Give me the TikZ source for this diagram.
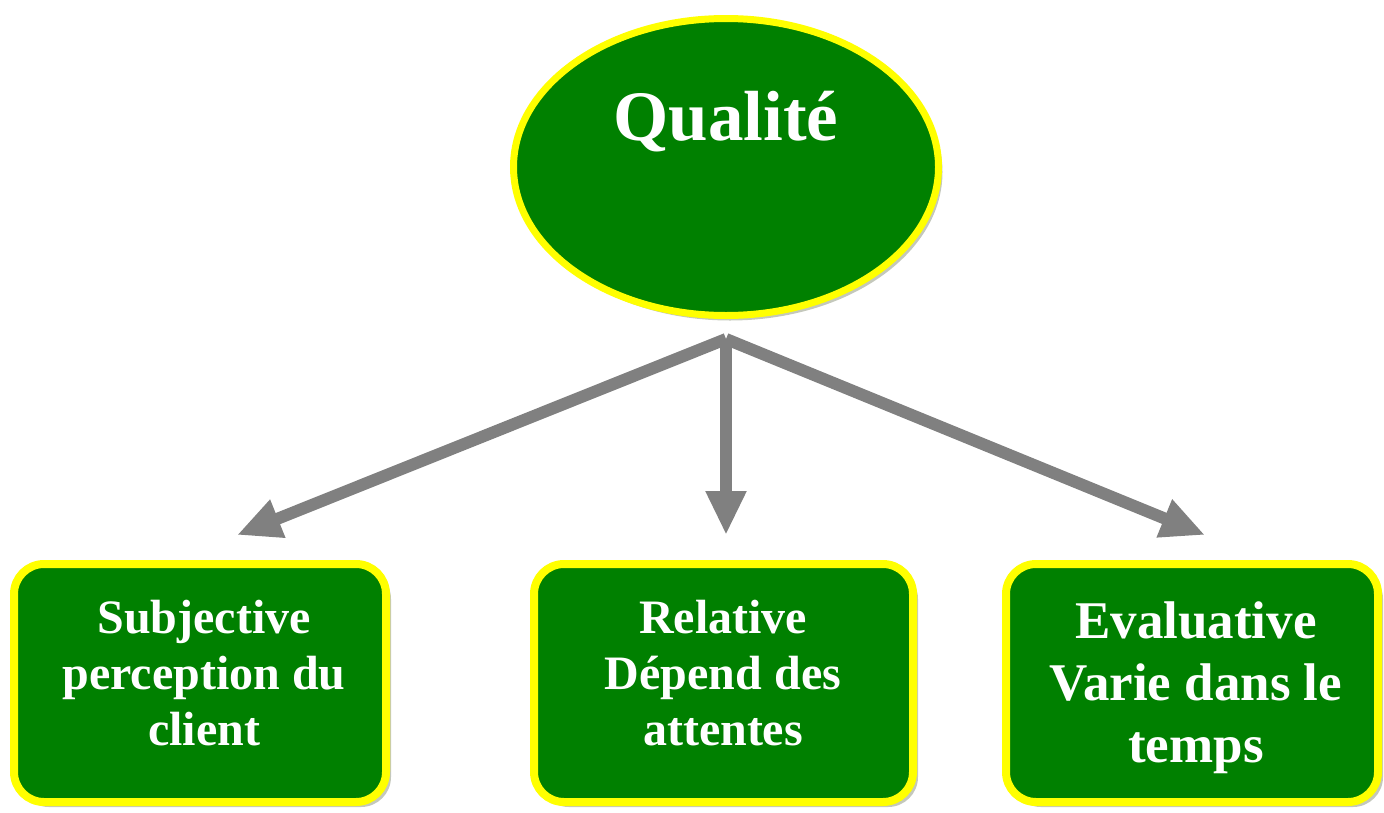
\documentclass[tikz,border=0pt]{standalone}
\usepackage{fontspec}
\setmainfont{Liberation Serif}
\usetikzlibrary{shapes.geometric,shadows,arrows.meta}
\definecolor{leaf}{HTML}{008000}
\definecolor{rim}{HTML}{FFFF00}
\definecolor{shade}{HTML}{C4C8BC}
\definecolor{link}{HTML}{808080}
\tikzset{
  bubble/.style={ellipse, draw=rim, line width=7pt, fill=leaf, inner sep=0pt,
    minimum width=425pt, minimum height=297pt,
    drop shadow={shadow xshift=4pt, shadow yshift=-5pt, fill=shade, opacity=1}},
  card/.style={rectangle, rounded corners=30pt, draw=rim, line width=8pt, fill=leaf,
    inner sep=0pt, minimum height=238pt,
    drop shadow={shadow xshift=5pt, shadow yshift=-5pt, fill=shade, opacity=1}},
  label/.style={text=white, font=\bfseries, align=center, inner sep=0pt},
  link/.style={draw=link, line width=12pt,
    -{Triangle[length=44pt,width=38pt]}, shorten >=0pt}
}
\begin{document}
\begin{tikzpicture}[x=1pt,y=-1pt]
  \useasboundingbox (0,0) rectangle (1384,812);

  % central ellipse
  \node[bubble] (q) at (726,167) {};
  \node[label, anchor=base, font=\fontsize{71}{80}\selectfont\bfseries] (qt) at (726,140) {Qualité};

  % the three qualities
  \node[card, minimum width=372pt] (b1) at (200,683) {};
  \node[card, minimum width=379pt] (b2) at (723.5,683) {};
  \node[card, minimum width=372pt] (b3) at (1192,683) {};

  % multi-line labels, placed by the baseline of their last line
  \node[label, anchor=base, font=\fontsize{48}{56}\selectfont\bfseries] (t1) at (204,745)
    {Subjective\\perception du\\client};
  \node[label, anchor=base, font=\fontsize{48}{56}\selectfont\bfseries] (t2) at (723,745)
    {Relative\\Dépend des\\attentes};
  \node[label, anchor=base, font=\fontsize{53}{62}\selectfont\bfseries] (t3) at (1196,762)
    {Evaluative\\Varie dans le\\temps};

  % connectors
  \coordinate (hub) at (726,339);
  \coordinate (e1) at (237,535);
  \coordinate (e2) at (726,535);
  \coordinate (e3) at (1205,535);
  \draw[link] (hub) -- (e1);
  \draw[link] (hub) -- (e2);
  \draw[link] (hub) -- (e3);
\end{tikzpicture}
\end{document}
